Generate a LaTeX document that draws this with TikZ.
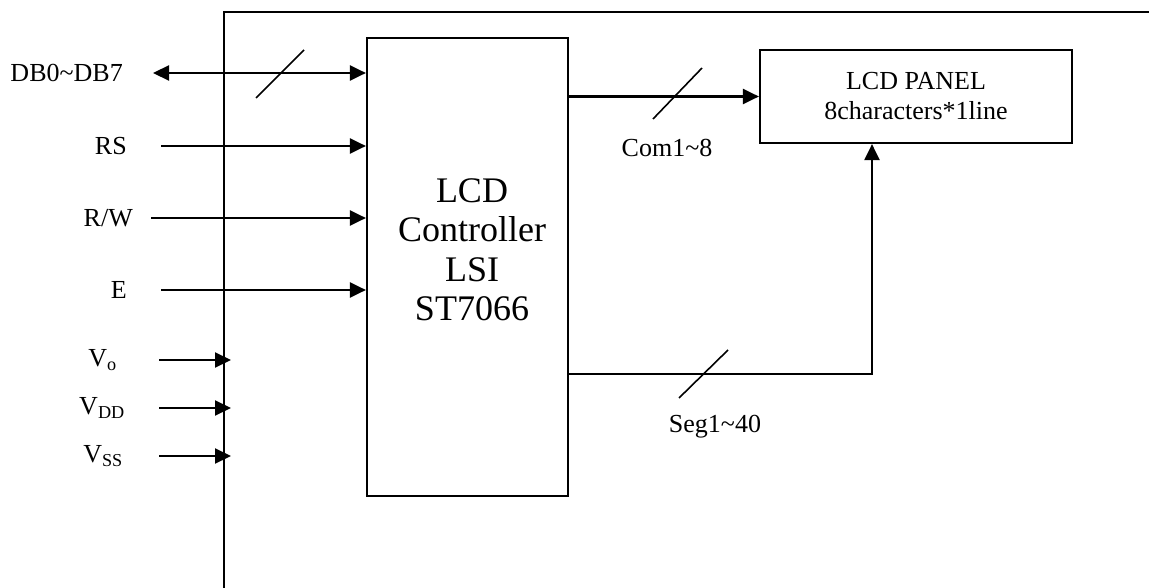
\documentclass[tikz,border=0pt]{standalone}
\usepackage{fontspec}
\setmainfont{Liberation Serif}
\usetikzlibrary{arrows.meta}

\tikzset{
  wire/.style={line width=2.2pt},
  sig/.style={wire, -{Triangle[length=16pt,width=15pt]}},
  bisig/.style={wire, {Triangle[length=16pt,width=15pt]}-{Triangle[length=16pt,width=15pt]}},
  slash/.style={line width=1.6pt},
  lbl/.style={font=\fontsize{26}{30}\selectfont, inner sep=0pt},
}

\begin{document}
\begin{tikzpicture}[x=1pt,y=-1pt]
\useasboundingbox (0,0) rectangle (1149,588);
% module frame
\draw[wire] (224,588) |- (1149,12);

% blocks
\node[draw, wire, minimum width=201pt, minimum height=458pt] (ctrl) at (467.5,267) {};
\node[align=center, font=\fontsize{36}{39.5}\selectfont] (ctrltxt) at (472,250) {LCD\\Controller\\LSI\\ST7066};
\node[draw, wire, lbl, minimum width=312pt, minimum height=93pt, align=center] (panel) at (916,96.5) {LCD PANEL\\8characters*1line};

% interface pins
\node[lbl, anchor=east] (db) at (123,73) {DB0\textasciitilde DB7};
\node[lbl, anchor=east] (rs) at (127,146) {RS};
\node[lbl, anchor=east] (rw) at (133,218) {R/W};
\node[lbl, anchor=east] (e) at (127,290) {E};
\draw[bisig] ([xshift=30pt]db.east) -- (ctrl.west |- db.east);
\draw[sig] ([xshift=34pt]rs.east) -- (ctrl.west |- rs.east);
\draw[sig] ([xshift=18pt]rw.east) -- (ctrl.west |- rw.east);
\draw[sig] ([xshift=34pt]e.east) -- (ctrl.west |- e.east);

% power pins
\coordinate (rail) at (231,0);
\node[lbl, anchor=east] (vo) at (117,360) {V\textsubscript{o}};
\node[lbl, anchor=east] (vdd) at (125,408) {V\textsubscript{DD}};
\node[lbl, anchor=east] (vss) at (123,456) {V\textsubscript{SS}};
\draw[sig] ([xshift=42pt]vo.east) -- (rail |- vo.east);
\draw[sig] ([xshift=34pt]vdd.east) -- (rail |- vdd.east);
\draw[sig] ([xshift=36pt]vss.east) -- (rail |- vss.east);

% driver outputs
\coordinate (segbend) at (872,374);
\draw[sig] (ctrl.east |- panel.west) -- (panel.west);
\draw[sig] (ctrl.east |- segbend) -- (segbend) -- (segbend |- panel.south);

% bus marks
\draw[slash] (256,98) -- (304,50);
\draw[slash] (653,119) -- (702,68);
\draw[slash] (679,398) -- (728,350);
\node[lbl] (com) at (667,148) {Com1\textasciitilde 8};
\node[lbl] (seg) at (715,427) {Seg1\textasciitilde 40};
\end{tikzpicture}
\end{document}
